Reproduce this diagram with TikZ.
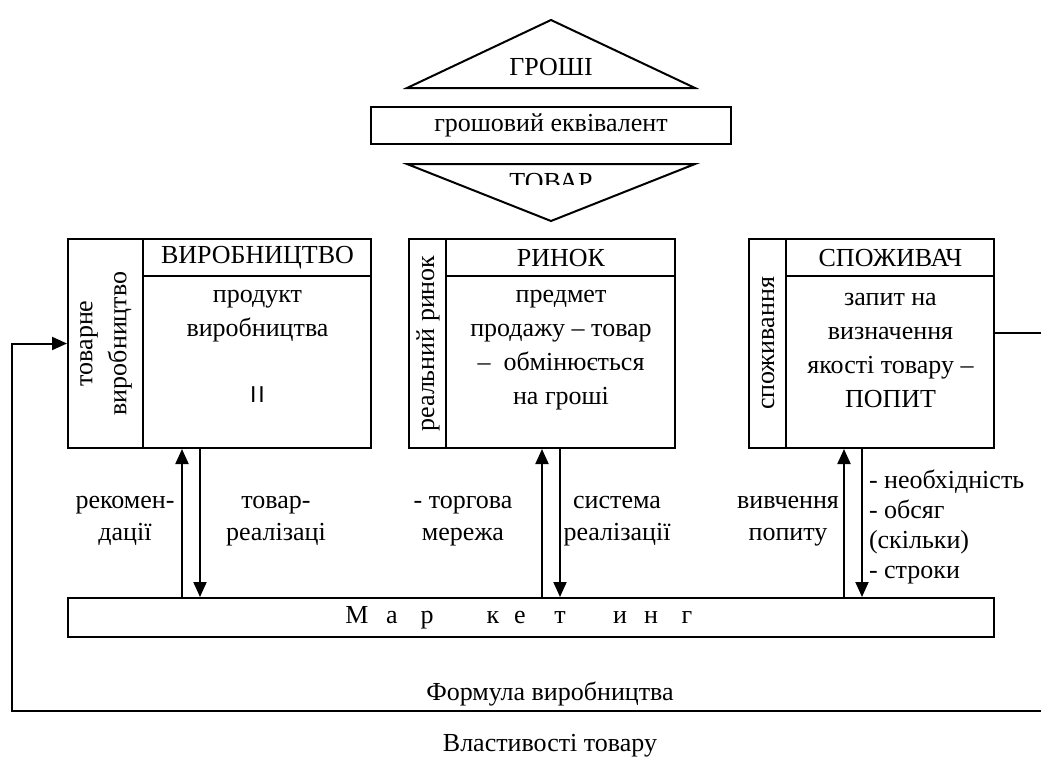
\documentclass[tikz,border=0pt]{standalone}
\usepackage{fontspec}
\setmainfont{Liberation Serif}
\newfontfamily\barfont{Liberation Sans}
\usetikzlibrary{arrows.meta}

\tikzset{
  scheme/.style={
    x=1pt, y=-1pt, line width=2pt,
    every node/.style={font=\fontsize{26}{34}\selectfont, inner sep=0pt},
  },
  block/.style={draw, line width=2pt},
  lbl/.style={align=center},
  arr/.style={-{Triangle[length=15pt,width=13pt]}},
}

\begin{document}
\begin{tikzpicture}[scheme]
  \useasboundingbox (0,0) rectangle (1041,760);

  % money / goods
  \draw (407,88) -- (551,20) -- (695,88) -- cycle;
  \node[anchor=base] (money) at (551,75) {ГРОШІ};
  \node[block, minimum width=360pt, minimum height=37pt] (equiv) at (551,125.5) {грошовий еквівалент};
  \begin{scope}
    \clip (400,160) rectangle (700,184);
    \node[anchor=base] (goods) at (551,190) {ТОВАР};
  \end{scope}
  \draw (407,164) -- (695,164) -- (551,221) -- cycle;

  % the three blocks
  \node[block, minimum width=303pt, minimum height=209pt] (prod) at (219.5,343.5) {};
  \node[block, minimum width=266pt, minimum height=209pt] (mark) at (542,343.5) {};
  \node[block, minimum width=245pt, minimum height=209pt] (cons) at (871.5,343.5) {};
  \draw ([xshift=76pt]prod.north west) -- ([xshift=76pt]prod.south west);
  \draw ([xshift=76pt,yshift=-38pt]prod.north west) -- ([yshift=-38pt]prod.north east);
  \draw ([xshift=38pt]mark.north west) -- ([xshift=38pt]mark.south west);
  \draw ([xshift=38pt,yshift=-38pt]mark.north west) -- ([yshift=-38pt]mark.north east);
  \draw ([xshift=38pt]cons.north west) -- ([xshift=38pt]cons.south west);
  \draw ([xshift=38pt,yshift=-38pt]cons.north west) -- ([yshift=-38pt]cons.north east);

  \node (prodhead) at (257.5,258) {ВИРОБНИЦТВО};
  \node (markhead) at (561,258) {РИНОК};
  \node (conshead) at (890.5,258) {СПОЖИВАЧ};

  \node[lbl, rotate=90] (prodside) at (106,343.5) {товарне\\виробництво};
  \node[rotate=90] (markside) at (428,343.5) {реальний ринок};
  \node[rotate=90] (consside) at (768,343.5) {споживання};

  \node[lbl] (prodtext) at (257.5,316.5) {продукт\\виробництва};
  \node[font=\fontsize{23}{23}\barfont] (prodbar) at (257.5,395) {I\kern2pt I};
  \node[lbl] (marktext) at (561,350.5) {предмет\\продажу – товар\\–\ \ обмінюється\\на гроші};
  \node[lbl] (constext) at (890.5,350.5) {запит на\\визначення\\якості товару –\\ПОПИТ};

  % marketing
  \node[block, minimum width=926pt, minimum height=39pt] (mkt) at (531,617.5) {};
  \foreach \ch/\xx in {М/357,а/392,р/427,к/493,е/520,т/560,и/620,н/651,г/687}
    \node[anchor=base] (mk\xx) at (\xx,623) {\ch};

  \draw[arr] ([xshift=-37.5pt]prod.south |- mkt.north) -- ([xshift=-37.5pt]prod.south);
  \draw[arr] ([xshift=-19.5pt]prod.south) -- ([xshift=-19.5pt]prod.south |- mkt.north);
  \draw[arr] (mark.south |- mkt.north) -- (mark.south);
  \draw[arr] ([xshift=18pt]mark.south) -- ([xshift=18pt]mark.south |- mkt.north);
  \draw[arr] ([xshift=-27.5pt]cons.south |- mkt.north) -- ([xshift=-27.5pt]cons.south);
  \draw[arr] ([xshift=-9.5pt]cons.south) -- ([xshift=-9.5pt]cons.south |- mkt.north);

  \node[lbl, font=\fontsize{26}{32}\selectfont] (advice) at (125,521) {рекомен-\\дації};
  \node[lbl, font=\fontsize{26}{32}\selectfont] (sales) at (276,521) {товар-\\реалізаці};
  \node[lbl, font=\fontsize{26}{32}\selectfont] (trade) at (463,521) {- торгова\\мережа};
  \node[lbl, font=\fontsize{26}{32}\selectfont] (system) at (617,521) {система\\реалізації};
  \node[lbl, font=\fontsize{26}{32}\selectfont] (study) at (788,521) {вивчення\\попиту};
  \node[align=left, anchor=west, font=\fontsize{26}{30}\selectfont] (needs) at (868,527)
    {- необхідність\\- обсяг\\(скільки)\\- строки};

  % feedback lines
  \coordinate (rexit) at (1041,333);
  \draw (cons.east |- rexit) -- (rexit);
  \coordinate (rc) at (1041,711);
  \coordinate (lc) at (12,711);
  \draw[arr] (rc) -- (lc) |- (prod.west);

  \node[anchor=base] (formula) at (550,700) {Формула виробництва};
  \node[anchor=base] (props) at (550,751) {Властивості товару};
\end{tikzpicture}
\end{document}
